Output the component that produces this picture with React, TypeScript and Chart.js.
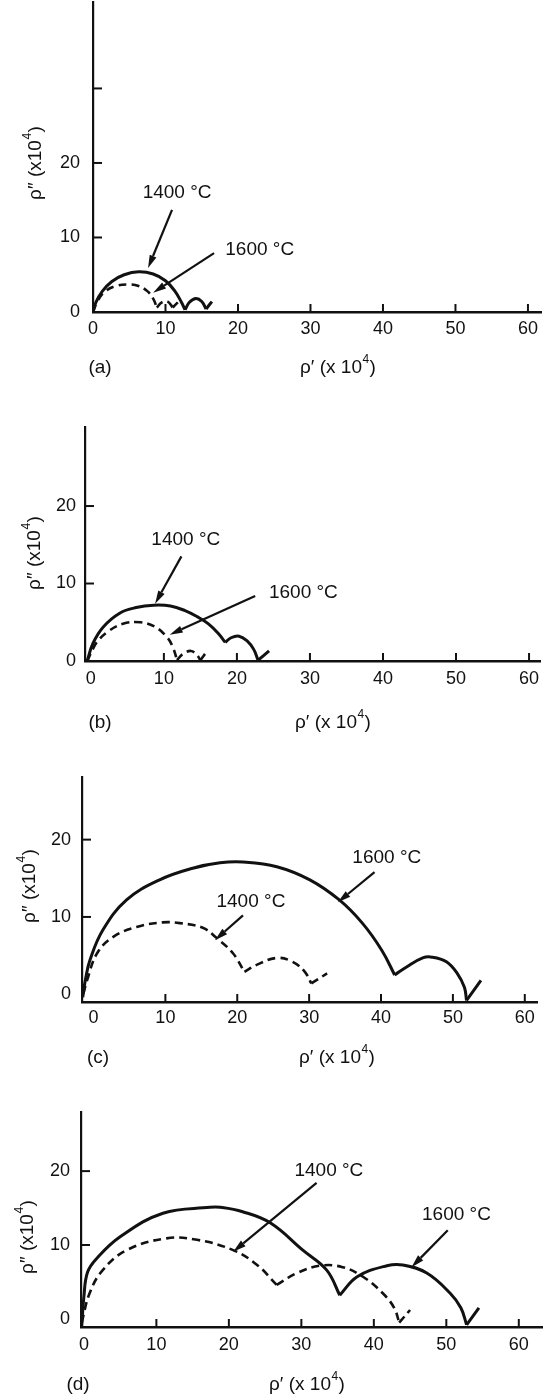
import { useEffect, useRef } from "react";
import { Chart, registerables } from "chart.js";

Chart.register(...registerables);

const INK = "#111111";
const FONT = "'Liberation Sans', Arial, Helvetica, sans-serif";

// ---- axis ticks ----
const X_TICK_LABELS = [0, 10, 20, 30, 40, 50, 60];
const X_TICK_MARKS = [10, 20, 30, 40, 50, 60];
const Y_TICK_LABELS = [0, 10, 20];
const Y_TICK_MARKS_A = [10, 20, 30];
const Y_TICK_MARKS = [10, 20];

const PANEL_LETTERS = ["(a)", "(b)", "(c)", "(d)"];
const SERIES_1400 = "1400 °C";
const SERIES_1600 = "1600 °C";

// ---- panel (a) ----
const A_1400_X = [0, 0.4, 1.3, 2.6, 4.3, 6.3, 8.3, 10.0, 11.3, 12.2, 12.7, 13.3, 14.2, 15.0, 15.6, 16.4];
const A_1400_Y = [0, 1.3, 2.8, 4.1, 5.0, 5.4, 5.1, 4.2, 2.8, 1.3, 0.3, 1.3, 1.8, 1.4, 0.4, 1.4];
const A_1400_CUSPS = [10, 14];
const A_1600_X = [0, 0.6, 1.6, 3.2, 4.8, 6.3, 7.5, 8.3, 8.8, 9.5, 10.3, 11.0, 11.7];
const A_1600_Y = [0, 1.4, 2.7, 3.5, 3.7, 3.5, 2.8, 1.8, 0.6, 1.3, 1.4, 0.6, 1.3];
const A_1600_CUSPS = [8, 11];

// ---- panel (b) ----
const B_1400_X = [-0.5, 0.3, 1.7, 4.0, 6.2, 8.6, 10.9, 12.9, 14.6, 16.1, 17.4, 18.4, 19.2, 20.3, 21.4, 22.3, 22.9, 24.4];
const B_1400_Y = [0, 2.3, 4.4, 6.2, 6.9, 7.2, 7.1, 6.5, 5.7, 4.8, 3.6, 2.4, 3.0, 3.2, 2.6, 1.5, 0.1, 1.3];
const B_1400_CUSPS = [11, 16];
const B_1600_X = [-0.5, 0.3, 0.8, 2.2, 4.4, 6.8, 8.8, 10.5, 11.3, 11.8, 12.6, 13.7, 14.5, 15.0, 16.0];
const B_1600_Y = [0, 1.6, 2.4, 3.7, 4.8, 5.0, 4.4, 3.0, 1.6, 0.1, 0.9, 1.3, 0.8, 0.1, 1.4];
const B_1600_CUSPS = [9, 13];

// ---- panel (c) ----
const C_1600_X = [-1.5, -1.1, -0.5, 1.3, 4.6, 9.2, 13.8, 17.6, 20.8, 25.5, 30.1, 34.2, 37.4, 40.1, 41.9, 43.5, 45.8, 47.1, 49.1, 50.6, 51.6, 51.9, 53.9];
const C_1600_Y = [-0.4, 2.0, 4.4, 8.3, 12.2, 14.8, 16.3, 17.0, 17.1, 16.5, 14.8, 12.2, 9.2, 5.7, 2.5, 3.5, 4.7, 4.8, 4.2, 2.7, 0.9, -0.8, 1.8];
const C_1600_CUSPS = [14, 21];
const C_1400_X = [-1.4, -0.9, 0.5, 2.7, 6.0, 9.6, 12.0, 15.2, 17.1, 19.4, 21.0, 22.7, 25.5, 27.7, 29.4, 30.3, 32.5];
const C_1400_Y = [0.1, 1.8, 5.3, 7.4, 8.7, 9.3, 9.2, 8.6, 7.3, 5.3, 2.9, 3.8, 4.7, 4.2, 2.9, 1.4, 2.7];
const C_1400_CUSPS = [10, 15];

// ---- panel (d) ----
const D_1600_X = [-0.3, 0.0, 0.5, 1.8, 5.0, 10.9, 17.4, 18.8, 21.9, 25.7, 30.2, 33.5, 35.3, 37.7, 41.8, 44.0, 47.3, 50.5, 52.0, 52.8, 54.5];
const D_1600_Y = [-1.0, 3.0, 6.3, 8.2, 11.1, 14.3, 15.1, 15.1, 14.5, 13.0, 9.3, 6.6, 3.2, 5.7, 7.2, 7.3, 6.2, 3.5, 1.5, -0.8, 1.5];
const D_1600_CUSPS = [12, 19];
const D_1400_X = [-0.3, 0.8, 2.6, 5.9, 11.4, 15.6, 20.6, 23.9, 26.6, 29.4, 32.6, 35.7, 38.5, 41.2, 42.8, 43.5, 45.0];
const D_1400_Y = [-0.5, 3.5, 6.6, 9.3, 10.9, 10.7, 9.3, 7.3, 4.6, 6.2, 7.2, 7.0, 5.7, 3.5, 1.5, -0.5, 1.2];
const D_1400_CUSPS = [8, 15];

type Series = { label: string; xs: number[]; ys: number[]; cusps: number[]; dashed: boolean };
type Note = { text: string; at: [number, number]; from: [number, number]; to: [number, number] };
type Panel = {
  top: number;
  height: number;
  area: { left: number; right: number; top: number; bottom: number };
  xr: [number, number];
  yr: [number, number];
  yTickMarks: number[];
  xPad: number;
  yPad: number;
  series: Series[];
  notes: Note[];
  letter: string;
  letterPos: [number, number];
  xTitlePos: [number, number];
  yTitlePos: [number, number];
};

const PANELS: Panel[] = [
  {
    top: -40, height: 435,
    area: { left: 93, right: 541, top: 2, bottom: 312 },
    xr: [0, 61.8], yr: [0, 41.6], yTickMarks: Y_TICK_MARKS_A, xPad: 6, yPad: 13,
    series: [
      { label: SERIES_1400, xs: A_1400_X, ys: A_1400_Y, cusps: A_1400_CUSPS, dashed: false },
      { label: SERIES_1600, xs: A_1600_X, ys: A_1600_Y, cusps: A_1600_CUSPS, dashed: true },
    ],
    notes: [
      { text: SERIES_1400, at: [11.6, 16.0], from: [10.9, 13.7], to: [7.6, 5.9] },
      { text: SERIES_1600, at: [23.0, 8.3], from: [16.7, 7.9], to: [8.3, 2.6] },
    ],
    letter: PANEL_LETTERS[0], letterPos: [100, 368], xTitlePos: [338, 368], yTitlePos: [36, 163],
  },
  {
    top: 395, height: 340,
    area: { left: 85, right: 540, top: 427, bottom: 661 },
    xr: [-0.8, 61.5], yr: [0, 30.2], yTickMarks: Y_TICK_MARKS, xPad: 7, yPad: 9,
    series: [
      { label: SERIES_1400, xs: B_1400_X, ys: B_1400_Y, cusps: B_1400_CUSPS, dashed: false },
      { label: SERIES_1600, xs: B_1600_X, ys: B_1600_Y, cusps: B_1600_CUSPS, dashed: true },
    ],
    notes: [
      { text: SERIES_1400, at: [13.0, 15.6], from: [12.4, 13.5], to: [8.8, 7.4] },
      { text: SERIES_1600, at: [29.1, 8.8], from: [22.5, 8.4], to: [10.8, 3.4] },
    ],
    letter: PANEL_LETTERS[1], letterPos: [100, 723], xTitlePos: [333, 723], yTitlePos: [35, 553],
  },
  {
    top: 735, height: 335,
    area: { left: 82, right: 537, top: 777, bottom: 1002 },
    xr: [-1.6, 61.7], yr: [-1, 28.1], yTickMarks: Y_TICK_MARKS, xPad: 5, yPad: 11,
    series: [
      { label: SERIES_1600, xs: C_1600_X, ys: C_1600_Y, cusps: C_1600_CUSPS, dashed: false },
      { label: SERIES_1400, xs: C_1400_X, ys: C_1400_Y, cusps: C_1400_CUSPS, dashed: true },
    ],
    notes: [
      { text: SERIES_1600, at: [40.8, 17.6], from: [39.1, 15.8], to: [34.0, 11.9] },
      { text: SERIES_1400, at: [21.9, 11.9], from: [20.8, 10.2], to: [16.9, 7.0] },
    ],
    letter: PANEL_LETTERS[2], letterPos: [98, 1058], xTitlePos: [337, 1058], yTitlePos: [30, 886],
  },
  {
    top: 1070, height: 327,
    area: { left: 81, right: 542, top: 1112, bottom: 1327 },
    xr: [-0.4, 63.2], yr: [-1.1, 28], yTickMarks: Y_TICK_MARKS, xPad: 7, yPad: 11,
    series: [
      { label: SERIES_1600, xs: D_1600_X, ys: D_1600_Y, cusps: D_1600_CUSPS, dashed: false },
      { label: SERIES_1400, xs: D_1400_X, ys: D_1400_Y, cusps: D_1400_CUSPS, dashed: true },
    ],
    notes: [
      { text: SERIES_1400, at: [33.8, 20.1], from: [32.1, 18.4], to: [20.6, 9.1] },
      { text: SERIES_1600, at: [51.4, 14.1], from: [50.2, 12.0], to: [45.2, 7.0] },
    ],
    letter: PANEL_LETTERS[3], letterPos: [78, 1385], xTitlePos: [307, 1385], yTitlePos: [28, 1237],
  },
];

function splitArcs(s: Series) {
  const bounds = [0, ...s.cusps, s.xs.length - 1];
  const arcs: { x: number; y: number }[][] = [];
  for (let i = 0; i < bounds.length - 1; i++) {
    const pts: { x: number; y: number }[] = [];
    for (let k = bounds[i]; k <= bounds[i + 1]; k++) pts.push({ x: s.xs[k], y: s.ys[k] });
    arcs.push(pts);
  }
  return arcs;
}

const TITLE_SIZE = 19;
const SUP_SIZE = 12;

function drawSupTitle(ctx: CanvasRenderingContext2D, cx: number, cy: number, base: string, rotate: boolean) {
  const sup = "4";
  const tail = ")";
  ctx.save();
  ctx.translate(cx, cy);
  if (rotate) ctx.rotate(-Math.PI / 2);
  ctx.fillStyle = INK;
  ctx.textBaseline = "middle";
  ctx.textAlign = "left";
  ctx.font = `${TITLE_SIZE}px ${FONT}`;
  const w1 = ctx.measureText(base).width;
  const w3 = ctx.measureText(tail).width;
  ctx.font = `${SUP_SIZE}px ${FONT}`;
  const w2 = ctx.measureText(sup).width;
  let x = -(w1 + w2 + w3 + 1) / 2;
  ctx.font = `${TITLE_SIZE}px ${FONT}`;
  ctx.fillText(base, x, 0);
  x += w1;
  ctx.font = `${SUP_SIZE}px ${FONT}`;
  ctx.fillText(sup, x + 0.5, -8);
  x += w2 + 1;
  ctx.font = `${TITLE_SIZE}px ${FONT}`;
  ctx.fillText(tail, x, 0);
  ctx.restore();
}

function makeDeco(p: Panel) {
  return {
    id: "panelDeco",
    afterDraw(chart: any) {
      const { ctx, chartArea } = chart;
      const xs = chart.scales.x;
      const ys = chart.scales.y;
      ctx.save();
      ctx.strokeStyle = INK;
      ctx.fillStyle = INK;
      ctx.lineWidth = 2;
      // inward tick marks
      for (const v of X_TICK_MARKS) {
        const px = xs.getPixelForValue(v);
        ctx.beginPath();
        ctx.moveTo(px, chartArea.bottom);
        ctx.lineTo(px, chartArea.bottom - 8);
        ctx.stroke();
      }
      for (const v of p.yTickMarks) {
        const py = ys.getPixelForValue(v);
        ctx.beginPath();
        ctx.moveTo(chartArea.left, py);
        ctx.lineTo(chartArea.left + 9, py);
        ctx.stroke();
      }
      // annotations with arrows
      for (const n of p.notes) {
        ctx.font = `19px ${FONT}`;
        ctx.textAlign = "center";
        ctx.textBaseline = "middle";
        ctx.fillText(n.text, xs.getPixelForValue(n.at[0]), ys.getPixelForValue(n.at[1]));
        const fx = xs.getPixelForValue(n.from[0]);
        const fy = ys.getPixelForValue(n.from[1]);
        const tx = xs.getPixelForValue(n.to[0]);
        const ty = ys.getPixelForValue(n.to[1]);
        const ang = Math.atan2(ty - fy, tx - fx);
        const len = 13;
        const hw = 3.6;
        const bx = tx - len * Math.cos(ang);
        const by = ty - len * Math.sin(ang);
        ctx.lineWidth = 2.2;
        ctx.beginPath();
        ctx.moveTo(fx, fy);
        ctx.lineTo(bx, by);
        ctx.stroke();
        ctx.beginPath();
        ctx.moveTo(tx, ty);
        ctx.lineTo(bx + hw * Math.sin(ang), by - hw * Math.cos(ang));
        ctx.lineTo(bx - hw * Math.sin(ang), by + hw * Math.cos(ang));
        ctx.closePath();
        ctx.fill();
      }
      // panel letter and axis titles
      ctx.font = `${TITLE_SIZE}px ${FONT}`;
      ctx.textAlign = "center";
      ctx.textBaseline = "middle";
      ctx.fillText(p.letter, p.letterPos[0], p.letterPos[1] - p.top);
      ctx.restore();
      drawSupTitle(ctx, p.xTitlePos[0], p.xTitlePos[1] - p.top, "ρ′ (x 10", false);
      drawSupTitle(ctx, p.yTitlePos[0], p.yTitlePos[1] - p.top, "ρ″ (x10", true);
    },
  };
}

function PanelChart({ p }: { p: Panel }) {
  const ref = useRef<HTMLCanvasElement | null>(null);
  useEffect(() => {
    if (!ref.current) return;
    const datasets: any[] = [];
    for (const s of p.series) {
      for (const arc of splitArcs(s)) {
        datasets.push({
          label: s.label,
          data: arc,
          borderColor: INK,
          borderWidth: s.dashed ? 2.6 : 3,
          borderDash: s.dashed ? [8, 5] : [],
          borderCapStyle: "butt",
          borderJoinStyle: "round",
          tension: 0.4,
          pointRadius: 0,
          fill: false,
        });
      }
    }
    const tickFont = { family: FONT, size: 18 };
    const chart = new Chart(ref.current, {
      type: "line",
      data: { datasets },
      options: {
        animation: false,
        responsive: false,
        devicePixelRatio: 1,
        layout: {
          padding: { top: p.area.top - p.top, right: 549 - p.area.right, left: 0, bottom: 0 },
        },
        plugins: { legend: { display: false }, tooltip: { enabled: false }, title: { display: false } },
        scales: {
          x: {
            type: "linear",
            min: p.xr[0],
            max: p.xr[1],
            grid: { display: false, drawTicks: false, tickLength: 0 },
            border: { display: true, color: INK, width: 2.5 },
            ticks: { color: INK, font: tickFont, padding: p.xPad, maxRotation: 0, callback: (v: any) => String(v) },
            afterBuildTicks: (s: any) => {
              s.ticks = X_TICK_LABELS.map((v) => ({ value: v }));
            },
            afterFit: (s: any) => {
              s.height = p.top + p.height - p.area.bottom;
            },
          },
          y: {
            type: "linear",
            min: p.yr[0],
            max: p.yr[1],
            grid: { display: false, drawTicks: false, tickLength: 0 },
            border: { display: true, color: INK, width: 2.2 },
            ticks: { color: INK, font: tickFont, padding: p.yPad, callback: (v: any) => String(v) },
            afterBuildTicks: (s: any) => {
              s.ticks = Y_TICK_LABELS.map((v) => ({ value: v }));
            },
            afterFit: (s: any) => {
              s.width = p.area.left;
            },
          },
        },
      } as any,
      plugins: [makeDeco(p)],
    });
    return () => chart.destroy();
  }, [p]);
  return (
    <canvas
      ref={ref}
      width={549}
      height={p.height}
      style={{ position: "absolute", left: 0, top: p.top, width: 549, height: p.height }}
    />
  );
}

export default function App() {
  return (
    <div style={{ position: "absolute", left: 0, top: 0, width: 549, height: 1397, background: "#fff", overflow: "hidden" }}>
      {PANELS.map((p, i) => (
        <PanelChart key={i} p={p} />
      ))}
    </div>
  );
}
